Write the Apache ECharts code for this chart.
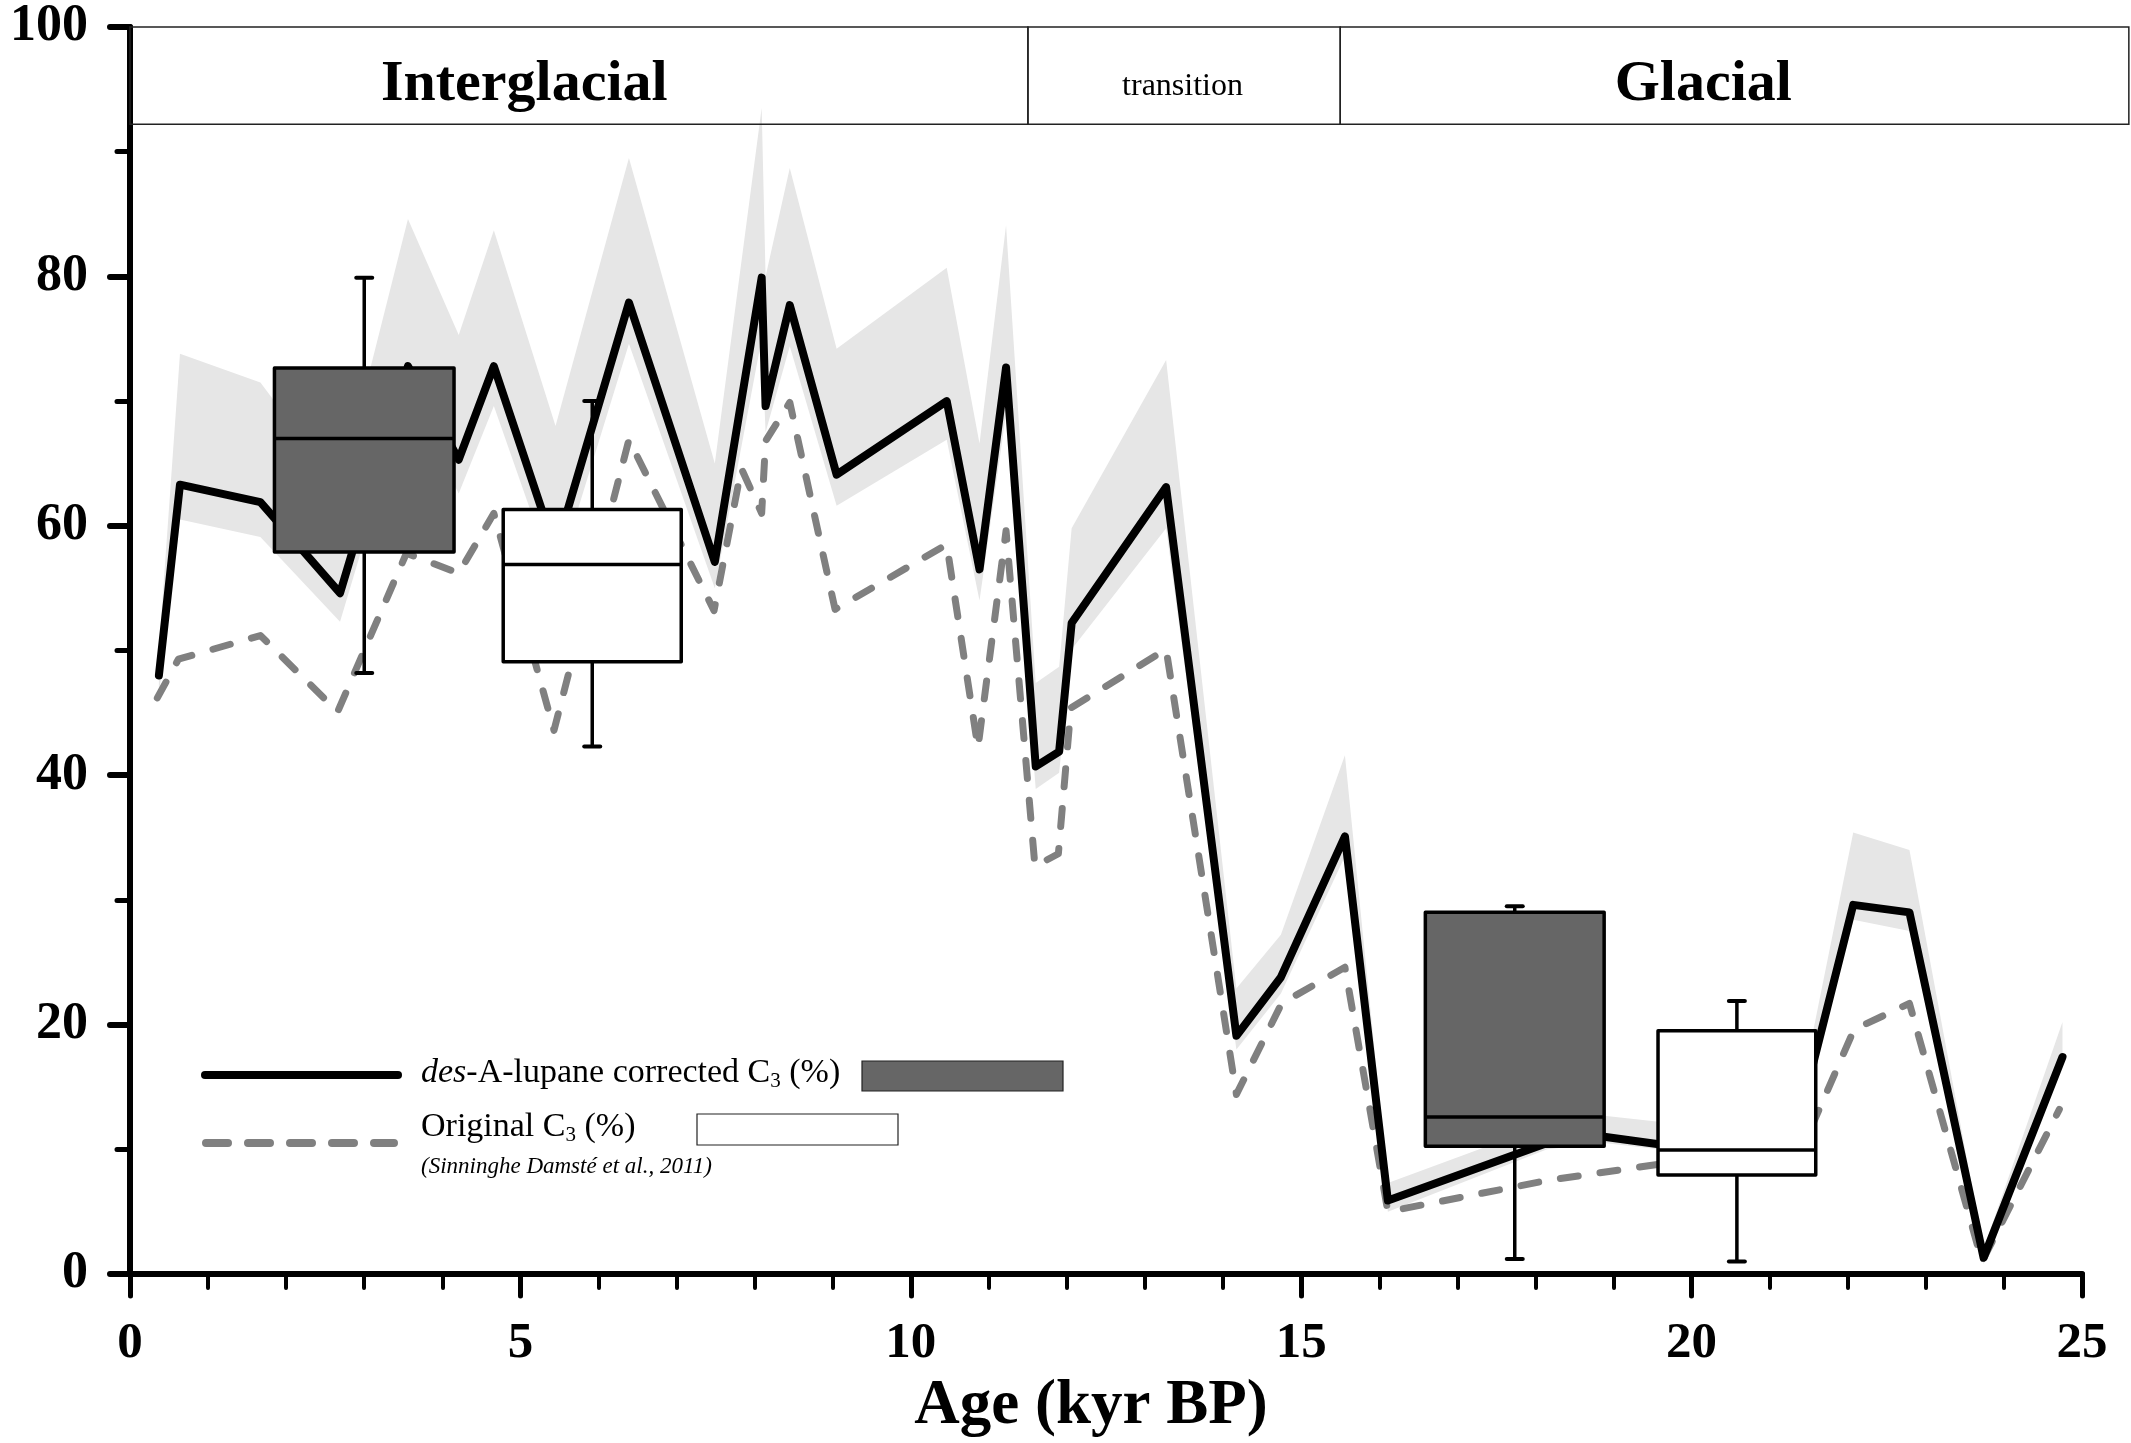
<!DOCTYPE html>
<html><head><meta charset="utf-8">
<script src="https://cdn.jsdelivr.net/npm/echarts@6/dist/echarts.min.js"></script>
<style>html,body{margin:0;padding:0;background:#fff}#c{width:2131px;height:1443px}</style>
</head><body><div id="c"></div>
<script>
// ---- data (age in kyr BP, values in %) ----
const correctedAge = [0.37,0.64,1.67,2.69,3.56,4.21,4.66,5.45,6.39,7.49,8.09,8.14,8.45,9.05,10.46,10.88,11.22,11.60,11.90,12.06,13.27,14.17,14.74,15.56,16.11,18.15,18.88,19.58,21.30,22.07,22.79,23.74,24.75];
const correctedC3  = [48.0,63.3,61.9,54.6,72.8,65.3,72.8,58.0,77.9,57.1,79.9,69.6,77.7,64.1,70.0,56.5,72.7,40.7,41.9,52.2,63.1,19.1,23.8,35.1,5.9,10.5,11.0,10.4,10.5,29.6,29.0,1.3,17.4];
const bandUpper    = [50.0,73.8,71.5,63.0,84.6,75.3,83.7,68.0,89.5,65.0,93.5,80.0,88.7,74.2,80.7,66.6,84.1,47.4,48.7,59.8,73.3,22.9,27.2,41.6,7.3,12.0,12.7,12.2,11.5,35.4,34.0,2.0,20.2];
const bandLower    = [46.5,60.5,59.1,52.3,70.5,62.6,69.6,55.5,74.6,55.0,75.0,67.5,74.4,61.6,66.9,54.0,69.0,38.9,40.2,50.1,59.8,18.0,22.5,33.5,5.0,10.0,10.5,10.0,10.0,28.4,27.5,0.8,16.8];
const originalAge  = [0.35,0.62,1.67,2.66,3.54,4.21,4.66,5.43,6.39,7.48,7.83,8.09,8.14,8.45,9.03,10.46,10.86,11.22,11.59,11.89,12.05,13.27,14.17,14.75,15.56,16.11,18.15,19.58,21.30,22.08,22.79,23.72,24.71];
const originalC3   = [46.2,49.3,51.2,45.1,57.8,56.2,61.0,43.6,66.9,53.2,64.6,61.0,66.8,69.9,53.3,58.5,42.2,59.6,32.7,33.7,45.4,50.1,14.4,21.7,24.6,5.0,7.5,8.8,8.4,19.6,21.7,1.0,13.2];

// box plots (age span of each box, statistics in %)
const boxStart  = [1.85, 4.78, 16.59, 19.57];
const boxEnd    = [4.15, 7.06, 18.88, 21.59];
const boxMin    = [48.2, 42.3, 1.2, 1.0];
const boxQ1     = [57.9, 49.1, 10.25, 7.93];
const boxMedian = [67.0, 56.9, 12.6, 9.95];
const boxQ3     = [72.65, 61.3, 29.0, 19.5];
const boxMax    = [79.9, 70.0, 29.5, 21.9];
const boxIsCorrected = [1, 0, 1, 0];

// climate periods
const periodStart = [0, 11.5, 15.5];
const periodEnd   = [11.5, 15.5, 25.6];
const periodNames = ['Interglacial', 'transition', 'Glacial'];
const periodLabelAge = [5.05, 13.48, 20.15];
const periodRange = [92.2, 100];

// axes
const xTicks = [0, 5, 10, 15, 20, 25];
const yTicks = [0, 20, 40, 60, 80, 100];

// ---- chart ----
const FONT = '"Liberation Serif", "Times New Roman", serif';
const chart = echarts.init(document.getElementById('c'), null, {renderer: 'canvas'});
const mctx = document.createElement('canvas').getContext('2d');
function tw(font, s) { mctx.font = font; return mctx.measureText(s).width; }

// legend pieces (pixel layout)
function legendTexts() {
  const els = [];
  const f1 = '34px ' + FONT, f1i = 'italic 34px ' + FONT, fs = '21px ' + FONT;
  let x = 421; const c1 = 1085 - 0.3375 * 34;
  [['des', f1i, 0], ['-A-lupane corrected C', f1, 0], ['3', fs, 8], [' (%)', f1, 0]].forEach(p => {
    els.push({type: 'text', x: x, y: c1 + p[2], style: {text: p[0], font: p[1], fill: '#000', align: 'left', verticalAlign: 'middle'}});
    x += tw(p[1], p[0]);
  });
  x = 421; const c2 = 1139 - 0.3375 * 34;
  [['Original C', f1, 0], ['3', fs, 8], [' (%)', f1, 0]].forEach(p => {
    els.push({type: 'text', x: x, y: c2 + p[2], style: {text: p[0], font: p[1], fill: '#000', align: 'left', verticalAlign: 'middle'}});
    x += tw(p[1], p[0]);
  });
  els.push({type: 'text', x: 421, y: 1175 - 0.3375 * 23, style: {text: '(Sinninghe Damsté et al., 2011)', font: 'italic 23px ' + FONT, fill: '#000', align: 'left', verticalAlign: 'middle'}});
  return els;
}

const option = {
  backgroundColor: '#fff',
  animation: false,
  grid: {left: 130, right: 49, top: 27, bottom: 168, containLabel: false},
  xAxis: {
    type: 'value', min: xTicks[0], max: xTicks[xTicks.length - 1], interval: xTicks[1] - xTicks[0],
    name: 'Age (kyr BP)', nameLocation: 'middle', nameGap: 101,
    nameTextStyle: {fontFamily: FONT, fontWeight: 'bold', fontSize: 63, color: '#000', padding: [0, 30, 0, 0]},
    axisLine: {show: true, onZero: false, lineStyle: {color: '#000', width: 6}},
    axisTick: {show: true, length: 22, lineStyle: {color: '#000', width: 5, cap: 'round'}},
    minorTick: {show: true, splitNumber: 5, length: 14, lineStyle: {color: '#000', width: 4, cap: 'round'}},
    axisLabel: {margin: 44, fontFamily: FONT, fontWeight: 'bold', fontSize: 51, color: '#000'},
    splitLine: {show: false}
  },
  yAxis: {
    type: 'value', min: yTicks[0], max: yTicks[yTicks.length - 1], interval: yTicks[1] - yTicks[0],
    axisLine: {show: true, onZero: false, lineStyle: {color: '#000', width: 6}},
    axisTick: {show: true, length: 20, lineStyle: {color: '#000', width: 6, cap: 'round'}},
    minorTick: {show: true, splitNumber: 2, length: 13, lineStyle: {color: '#000', width: 5, cap: 'round'}},
    axisLabel: {margin: 42, fontFamily: FONT, fontWeight: 'bold', fontSize: 52, color: '#000'},
    splitLine: {show: false}
  },
  series: [
    { // uncertainty band
      type: 'custom', z: 1, silent: true, clip: true,
      encode: {x: 0, y: [1, 2]},
      data: correctedAge.map((a, i) => [a, bandLower[i], bandUpper[i]]),
      renderItem: function (params, api) {
        if (params.dataIndex !== 0) return null;
        const pts = [];
        for (let i = 0; i < correctedAge.length; i++) pts.push(api.coord([correctedAge[i], bandUpper[i]]));
        for (let i = correctedAge.length - 1; i >= 0; i--) pts.push(api.coord([correctedAge[i], bandLower[i]]));
        return {type: 'polygon', shape: {points: pts}, style: {fill: '#e6e6e6'}};
      }
    },
    { // original
      type: 'line', z: 2, silent: true, symbol: 'none',
      data: originalAge.map((a, i) => [a, originalC3[i]]),
      lineStyle: {color: '#808080', width: 7, type: [18, 22], cap: 'round', join: 'round'}
    },
    { // corrected
      type: 'line', z: 3, silent: true, symbol: 'none',
      data: correctedAge.map((a, i) => [a, correctedC3[i]]),
      lineStyle: {color: '#000', width: 8, cap: 'round', join: 'round'}
    },
    { // box plots
      type: 'custom', z: 4, silent: true,
      encode: {x: [0, 1], y: [2, 6]},
      data: boxStart.map((s, i) => [s, boxEnd[i], boxMin[i], boxQ1[i], boxMedian[i], boxQ3[i], boxMax[i], boxIsCorrected[i]]),
      renderItem: function (params, api) {
        const x0 = api.value(0), x1 = api.value(1), xm = (x0 + x1) / 2;
        const pMin = api.coord([xm, api.value(2)]);
        const pQ1 = api.coord([x0, api.value(3)]);
        const pMed = api.coord([x0, api.value(4)]);
        const pQ3 = api.coord([x1, api.value(5)]);
        const pMax = api.coord([xm, api.value(6)]);
        const pQ1m = api.coord([xm, api.value(3)]);
        const pQ3m = api.coord([xm, api.value(5)]);
        const xr = api.coord([x1, 0])[0];
        const fill = api.value(7) ? '#666666' : '#ffffff';
        const ws = {stroke: '#000', lineWidth: 3.5};
        const cap = 8;
        return {type: 'group', children: [
          {type: 'line', shape: {x1: pMin[0], y1: pMin[1], x2: pQ1m[0], y2: pQ1m[1]}, style: ws},
          {type: 'line', shape: {x1: pQ3m[0], y1: pQ3m[1], x2: pMax[0], y2: pMax[1]}, style: ws},
          {type: 'line', shape: {x1: pMin[0] - cap, y1: pMin[1], x2: pMin[0] + cap, y2: pMin[1]}, style: {stroke: '#000', lineWidth: 4, lineCap: 'round'}},
          {type: 'line', shape: {x1: pMax[0] - cap, y1: pMax[1], x2: pMax[0] + cap, y2: pMax[1]}, style: {stroke: '#000', lineWidth: 4, lineCap: 'round'}},
          {type: 'rect', shape: {x: pQ1[0], y: pQ3[1], width: pQ3[0] - pQ1[0], height: pQ1[1] - pQ3[1]}, style: {fill: fill, stroke: '#000', lineWidth: 3.5, lineJoin: 'round'}},
          {type: 'line', shape: {x1: pMed[0], y1: pMed[1], x2: xr, y2: pMed[1]}, style: {stroke: '#000', lineWidth: 3.5}}
        ]};
      }
    },
    { // climate period header
      type: 'custom', z: 6, silent: true, clip: false,
      encode: {x: [0, 1], y: 3},
      data: periodStart.map((s, i) => [s, periodEnd[i], periodLabelAge[i], periodRange[1]]),
      renderItem: function (params, api) {
        const i = params.dataIndex;
        const tl = api.coord([api.value(0), periodRange[1]]);
        const br = api.coord([api.value(1), periodRange[0]]);
        const lx = api.coord([api.value(2), periodRange[1]])[0];
        const cy = (tl[1] + br[1]) / 2;
        const big = periodNames[i] !== 'transition';
        return {type: 'group', children: [
          {type: 'rect', shape: {x: tl[0], y: tl[1], width: br[0] - tl[0], height: br[1] - tl[1]}, style: {fill: 'none', stroke: '#222', lineWidth: 1.5}},
          {type: 'text', x: lx, y: cy + (big ? 9 : 11), style: {text: periodNames[i], fill: '#000', align: 'center', verticalAlign: 'middle',
            font: (big ? 'bold 58px ' : '32px ') + FONT}}
        ]};
      }
    }
  ],
  graphic: [
    {type: 'line', shape: {x1: 205, y1: 1075, x2: 398, y2: 1075}, style: {stroke: '#000', lineWidth: 8, lineCap: 'round'}},
    {type: 'rect', shape: {x: 862, y: 1061, width: 201, height: 30}, style: {fill: '#666666', stroke: '#222', lineWidth: 1.2}},
    {type: 'line', shape: {x1: 206, y1: 1143, x2: 394, y2: 1143}, style: {stroke: '#808080', lineWidth: 8, lineCap: 'round', lineDash: [22, 20]}},
    {type: 'rect', shape: {x: 697, y: 1114, width: 201, height: 31}, style: {fill: '#fff', stroke: '#222', lineWidth: 1.2}}
  ].concat(legendTexts())
};
chart.setOption(option);
</script>
</body></html>
